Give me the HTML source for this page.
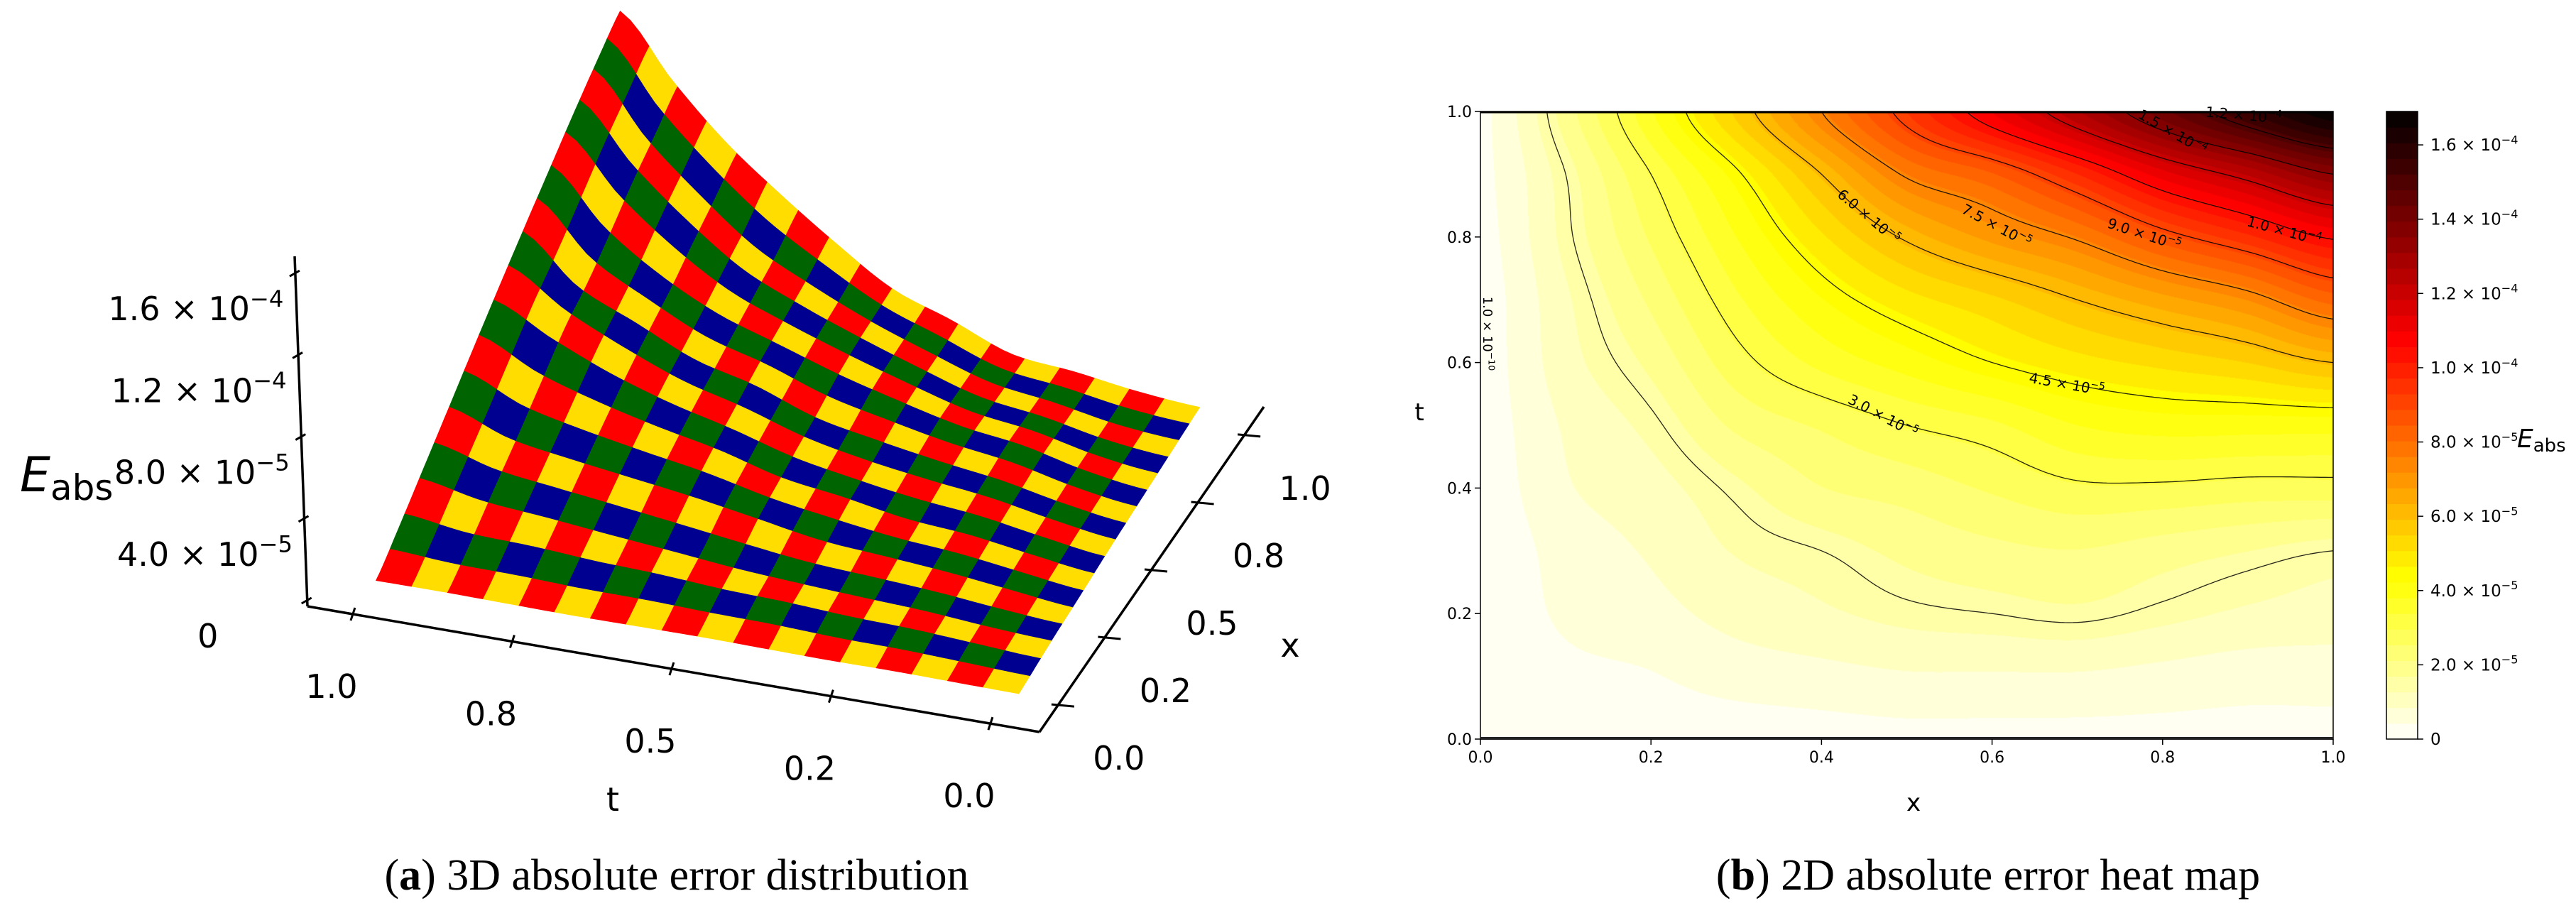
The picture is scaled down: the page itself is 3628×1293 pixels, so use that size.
<!DOCTYPE html>
<html><head><meta charset="utf-8">
<style>
html,body{margin:0;padding:0;background:#fff;}
#wrap{position:relative;width:3628px;height:1293px;overflow:hidden;background:#fff;}
#heat{position:absolute;left:2085px;top:157px;}
#svg{position:absolute;left:0;top:0;}
text{font-family:"DejaVu Sans","Liberation Sans",sans-serif;}
.cap{font-family:"Liberation Serif",serif;font-size:62px;}
</style></head>
<body>
<div id="wrap">
<canvas id="heat" width="1201" height="884"></canvas>
<svg id="svg" width="3628" height="1293" xmlns="http://www.w3.org/2000/svg">
  <g id="surf"></g>
  <g id="axes3d"></g>
  <g id="contours"></g>
  <g id="axes2d"></g>
  <g id="cbar"></g>
  <text class="cap" x="953" y="1253" text-anchor="middle">(<tspan font-weight="bold">a</tspan>) 3D absolute error distribution</text>
  <text class="cap" x="2800" y="1253" text-anchor="middle">(<tspan font-weight="bold">b</tspan>) 2D absolute error heat map</text>
</svg>
</div>
<script>
// ---- data (E_abs in units of 1e-5) ----
const xGrid = [0,0.1,0.2,0.3,0.4,0.5,0.6,0.7,0.8,0.9,1.0];
const tGrid = [0,0.1,0.2,0.3,0.4,0.5,0.6,0.7,0.8,0.9,1.0];
const eT00 = [0,0.1,0.2,0.2,0.25,0.3,0.3,0.3,0.3,0.3,0.3];
const eT01 = [0.05,0.3,0.4,0.6,0.7,0.8,0.8,0.8,0.7,0.6,0.6];
const eT02 = [0.1,0.5,0.7,1.0,1.2,1.4,1.5,1.6,1.4,1.2,1.1];
const eT03 = [0.1,0.6,0.9,1.3,1.5,1.8,2.0,2.1,1.9,1.7,1.5];
const eT04 = [0.15,0.8,1.1,1.6,2.1,2.3,2.6,2.9,2.9,2.8,2.8];
const eT05 = [0.2,0.9,1.4,2.2,2.6,3.0,3.3,3.8,4.0,4.0,4.0];
const eT06 = [0.2,1.1,1.8,2.8,3.5,4.0,4.5,4.9,5.2,5.5,6.0];
const eT07 = [0.2,1.2,2.2,3.3,4.2,4.9,5.4,6.0,6.6,7.2,8.2];
const eT08 = [0.25,1.4,2.6,3.8,5.0,6.1,6.9,7.6,8.7,9.6,10.6];
const eT09 = [0.3,1.5,3.0,4.4,6.0,7.6,8.4,9.7,11.2,12.3,13.5];
const eT10 = [0.3,1.9,3.75,5.6,7.5,9.3,11.0,12.6,14.2,15.6,16.8];
const eRows = [eT00,eT01,eT02,eT03,eT04,eT05,eT06,eT07,eT08,eT09,eT10];
const contourLevels = [1.5,3.0,4.5,6.0,7.5,9.0,10.5,12.0,13.5,15.0];
const axisTickVals = [0,0.2,0.4,0.6,0.8,1.0];
const axisTickLabels = ["0.0","0.2","0.4","0.6","0.8","1.0"];
const cbarTickVals = [0,2,4,6,8,10,12,14,16];
const cbarTickMant = ["0","2.0","4.0","6.0","8.0","1.0","1.2","1.4","1.6"];
const cbarTickExp = ["","−5","−5","−5","−5","−4","−4","−4","−4"];
const zTickVals = [0,4,8,12,16];
const zTickMant = ["0","4.0","8.0","1.2","1.6"];
const zTickExp = ["","−5","−5","−4","−4"];
const t3TickVals = [1,0.75,0.5,0.25,0];
const t3TickLabels = ["1.0","0.8","0.5","0.2","0.0"];
const x3TickVals = [0,0.25,0.5,0.75,1];
const x3TickLabels = ["0.0","0.2","0.5","0.8","1.0"];
const VMAX = 16.9;

const NS="http://www.w3.org/2000/svg";
function mk(tag, attrs, parent){const e=document.createElementNS(NS,tag);for(const k in attrs)e.setAttribute(k,attrs[k]);parent.appendChild(e);return e;}

function cr(p0,p1,p2,p3,s){
  return 0.5*((2*p1)+(-p0+p2)*s+(2*p0-5*p1+4*p2-p3)*s*s+(-p0+3*p1-3*p2+p3)*s*s*s);
}
function gv(j,i){const n=eRows.length-1,m=eRows[0].length-1;
  j=Math.max(0,Math.min(n,j));i=Math.max(0,Math.min(m,i));return eRows[j][i];}
function E(x,t){
  const nx=xGrid.length-1, nt=tGrid.length-1;
  let fx=Math.min(Math.max(x,0),1)*nx, ft=Math.min(Math.max(t,0),1)*nt;
  let i=Math.min(Math.floor(fx),nx-1), j=Math.min(Math.floor(ft),nt-1);
  const ax=fx-i, at=ft-j;
  const rows=[];
  for(let k=-1;k<=2;k++){
    rows.push(cr(gv(j+k,i-1),gv(j+k,i),gv(j+k,i+1),gv(j+k,i+2),ax));
  }
  return Math.max(0,cr(rows[0],rows[1],rows[2],rows[3],at));
}
function hotR(v){
  let s=1-Math.min(Math.max(v/VMAX,0),1);
  const r=Math.min(1,s/0.365), g=Math.min(1,Math.max(0,(s-0.365)/0.375)), b=Math.min(1,Math.max(0,(s-0.746)/0.254));
  return [Math.round(r*255),Math.round(g*255),Math.round(b*255)];
}
const NBANDS=40, BSTEP=VMAX/NBANDS;
function bandColor(v){const k=Math.min(NBANDS-1,Math.floor(v/BSTEP));return hotR((k+0.5)*BSTEP);}

// ---------- heatmap ----------
const HX0=2085,HX1=3286,HY0=1041,HY1=157;
const sx=x=>HX0+x*(HX1-HX0), sy=t=>HY0+t*(HY1-HY0);
(function(){
  const cv=document.getElementById('heat'),ctx=cv.getContext('2d');
  const W=cv.width,H=cv.height,img=ctx.createImageData(W,H);
  for(let py=0;py<H;py++){const t=1-py/(H-1);
    for(let px=0;px<W;px++){const x=px/(W-1);const c=bandColor(E(x,t));const o=(py*W+px)*4;
      img.data[o]=c[0];img.data[o+1]=c[1];img.data[o+2]=c[2];img.data[o+3]=255;}}
  ctx.putImageData(img,0,0);
})();
// contours (marching squares)
(function(){
  const g=document.getElementById('contours');const N=200;
  const val=[];for(let j=0;j<=N;j++){val.push([]);for(let i=0;i<=N;i++)val[j].push(E(i/N,j/N));}
  contourLevels.forEach(L=>{
    let d="";
    for(let j=0;j<N;j++)for(let i=0;i<N;i++){
      const v0=val[j][i],v1=val[j][i+1],v2=val[j+1][i+1],v3=val[j+1][i];
      const pts=[];
      const edge=(va,vb,xa,ya,xb,yb)=>{if((va<L)!==(vb<L)){const f=(L-va)/(vb-va);pts.push([xa+(xb-xa)*f,ya+(yb-ya)*f]);}};
      edge(v0,v1,i,j,i+1,j);edge(v1,v2,i+1,j,i+1,j+1);edge(v2,v3,i+1,j+1,i,j+1);edge(v3,v0,i,j+1,i,j);
      for(let k=0;k+1<pts.length;k+=2){
        d+="M"+sx(pts[k][0]/N).toFixed(1)+" "+sy(pts[k][1]/N).toFixed(1)+"L"+sx(pts[k+1][0]/N).toFixed(1)+" "+sy(pts[k+1][1]/N).toFixed(1);
      }
    }
    const p=mk('path',{d:d,fill:'none',stroke:'#000','stroke-width':1.3,'stroke-opacity':0.85},g);
    
    
  });
})();
function supText(parent,x,y,mant,exp,size,anchor,name){
  const t=mk('text',{x:x,y:y,'font-size':size,'text-anchor':anchor,fill:'#000'},parent);
  
  
  if(exp===""){t.textContent=mant;return t;}
  t.appendChild(document.createTextNode(mant+" × 10"));
  const s=mk('tspan',{dy:-size*0.42,'font-size':size*0.7},t);s.textContent=exp;
  return t;
}
// contour labels
(function(){
  const g=document.getElementById('contours');
  const labs=[["6.0","−5",2632,305,40],["7.5","−5",2812,318,28],["9.0","−5",3020,330,18],["1.0","−4",3217,325,15],
              ["4.5","−5",2911,541,10],["3.0","−5",2652,586,28],["1.5","−4",3060,186,30],["1.2","−4",3160,162,5]];
  labs.forEach(l=>{
    const grp=mk('g',{transform:`translate(${l[2]},${l[3]}) rotate(${l[4]})`},g);
    supText(grp,0,7,l[0],l[1],20,'middle','contour-label');
  });
  const v=mk('g',{transform:'translate(2095,470) rotate(90)'},g);
  supText(v,0,6,"1.0","−10",18,'middle','contour-label');
})();
// 2D axes
(function(){
  const g=document.getElementById('axes2d');
  const fr=mk('rect',{x:HX0,y:HY1,width:HX1-HX0,height:HY0-HY1,fill:'none',stroke:'#000','stroke-width':1.5},g);
  
  
  mk('line',{x1:HX0,y1:HY0-1,x2:HX1,y2:HY0-1,stroke:'#222','stroke-width':4},g);
  mk('line',{x1:HX0,y1:HY1+1,x2:HX1,y2:HY1+1,stroke:'#000','stroke-width':3},g);
  axisTickVals.forEach((v,i)=>{
    const xt=mk('line',{x1:sx(v),y1:HY0,x2:sx(v),y2:HY0+8,stroke:'#000','stroke-width':1.5},g);
    
    
    const xl=mk('text',{x:sx(v),y:HY0+33,'font-size':22,'text-anchor':'middle'},g);xl.textContent=axisTickLabels[i];
    
    
    const yt=mk('line',{x1:HX0-8,y1:sy(v),x2:HX0,y2:sy(v),stroke:'#000','stroke-width':1.5},g);
    
    
    const yl=mk('text',{x:HX0-12,y:sy(v)+8,'font-size':22,'text-anchor':'end'},g);yl.textContent=axisTickLabels[i];
    
    
  });
  const xa=mk('text',{x:2695,y:1142,'font-size':34,'text-anchor':'middle'},g);xa.textContent='x';
  
  
  const ya=mk('text',{x:1999,y:592,'font-size':34,'text-anchor':'middle'},g);ya.textContent='t';
  
  
})();
// colorbar
(function(){
  const g=document.getElementById('cbar');const CX0=3361,CX1=3405,CY0=1041,CY1=157;
  const cy=v=>CY0+(v/VMAX)*(CY1-CY0);
  for(let k=0;k<NBANDS;k++){const c=hotR((k+0.5)*BSTEP);
    const r=mk('rect',{x:CX0,y:cy((k+1)*BSTEP)-0.5,width:CX1-CX0,height:cy(k*BSTEP)-cy((k+1)*BSTEP)+1,fill:`rgb(${c[0]},${c[1]},${c[2]})`},g);
    
    }
  mk('rect',{x:CX0,y:CY1,width:CX1-CX0,height:CY0-CY1,fill:'none',stroke:'#000','stroke-width':1.5},g);
  cbarTickVals.forEach((v,i)=>{
    mk('line',{x1:CX1,y1:cy(v),x2:CX1+8,y2:cy(v),stroke:'#000','stroke-width':1.5},g);
    supText(g,3423,cy(v)+8,cbarTickMant[i],cbarTickExp[i],23,'start','colorbar-tick-label');
  });
  const lab=mk('text',{x:3545,y:630,'font-size':36,'font-style':'italic'},g);
  
  
  lab.appendChild(document.createTextNode('E'));
  const sb=mk('tspan',{dy:6,'font-size':26,'font-style':'normal'},lab);sb.textContent='abs';
})();
// ---------- 3D surface ----------
const A3=[528,825],U3=[907,152],V3=[253,-396],W3=[5.5,-24.6];
function P3(t,x,z){return [A3[0]+(1-t)*U3[0]+x*V3[0]+z*W3[0],A3[1]+(1-t)*U3[1]+x*V3[1]+z*W3[1]];}
(function(){
  const g=document.getElementById('surf');
  const CT=18,CXn=17,SUB=3,NT=CT*SUB,NX=CXn*SUB;
  const pal=["#ff0000","#ffdd00","#006400","#000090"];
  for(let j=NX-1;j>=0;j--){
    for(let i=0;i<NT;i++){
      const t0=1-i/NT,t1=1-(i+1)/NT,x0=j/NX,x1=(j+1)/NX;
      const ci=Math.floor(i/SUB),cj=Math.floor(j/SUB);
      const col=pal[(cj%2)*2+(ci%2)];
      const p=[P3(t0,x0,E(x0,t0)),P3(t1,x0,E(x0,t1)),P3(t1,x1,E(x1,t1)),P3(t0,x1,E(x1,t0))];
      const q=mk('polygon',{points:p.map(a=>a[0].toFixed(1)+","+a[1].toFixed(1)).join(" "),fill:col,stroke:col,'stroke-width':0.8},g);
      
      
    }
  }
})();
// 3D axes
(function(){
  const g=document.getElementById('axes3d');
  const C0=[433,854],TE=[1464,1031],XE=[1780,573],ZT=[415,361];
  const ln=(a,b,w,name)=>{const l=mk('line',{x1:a[0],y1:a[1],x2:b[0],y2:b[1],stroke:'#000','stroke-width':w},g);
    
    };
  ln(C0,ZT,3.5,'z-axis');ln(C0,TE,3.5,'t-axis');ln(TE,XE,3.5,'x-axis');
  t3TickVals.forEach((v,i)=>{
    const s=0.062+(1-v)*0.871;const px=C0[0]+(TE[0]-C0[0])*s,py=C0[1]+(TE[1]-C0[1])*s;
    ln([px+3,py-9],[px-3,py+9],3,'t-tick');
    const tl=mk('text',{x:px-30,y:py+118,'font-size':46,'text-anchor':'middle'},g);tl.textContent=t3TickLabels[i];
    
    
  });
  x3TickVals.forEach((v,i)=>{
    const s=0.085+v*0.83;const px=TE[0]+(XE[0]-TE[0])*s,py=TE[1]+(XE[1]-TE[1])*s;
    ln([px-10,py],[px+22,py+3],3,'x-tick');
    const xl=mk('text',{x:px+85,y:py+92,'font-size':46,'text-anchor':'middle'},g);xl.textContent=x3TickLabels[i];
    
    
  });
  zTickVals.forEach((v,i)=>{
    const py=846-v*28.8;const px=C0[0]+(ZT[0]-C0[0])*((C0[1]-py)/(C0[1]-ZT[1]));
    ln([px-8,py+4],[px+6,py-4],3,'z-tick');
    supText(g,px-140,py+66,zTickMant[i],zTickExp[i],46,'middle','z-tick-label');
  });
  const tt=mk('text',{x:863,y:1142,'font-size':46,'text-anchor':'middle'},g);tt.textContent='t';
  
  
  const xt=mk('text',{x:1817,y:925,'font-size':46,'text-anchor':'middle'},g);xt.textContent='x';
  
  
  const ez=mk('text',{x:28,y:692,'font-size':68,'font-style':'italic'},g);
  
  
  ez.appendChild(document.createTextNode('E'));
  const sb=mk('tspan',{dy:12,'font-size':50,'font-style':'normal'},ez);sb.textContent='abs';
})();
</script>
</body></html>
